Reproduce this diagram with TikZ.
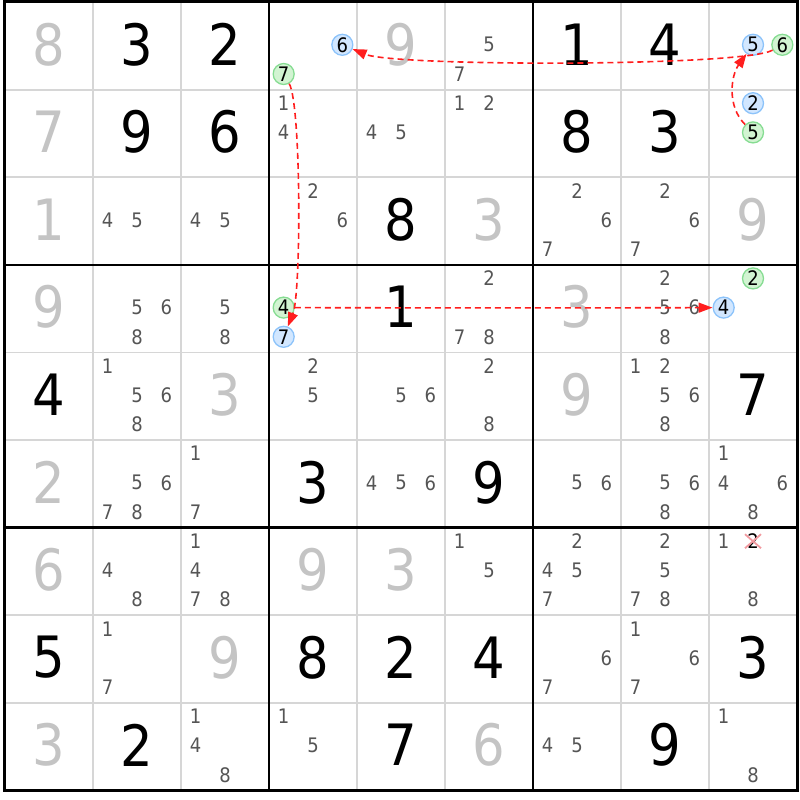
\documentclass[tikz,border=0pt]{standalone}
\usepackage{fontspec}
\setmainfont{DejaVu Sans Condensed}
\usetikzlibrary{arrows.meta}
\definecolor{givengray}{HTML}{C4C4C4}
\definecolor{candgray}{HTML}{555555}
\definecolor{thingrid}{HTML}{D6D6D6}
\definecolor{onfill}{HTML}{D2E7FF}
\definecolor{ondraw}{HTML}{8CC3FA}
\definecolor{offfill}{HTML}{D2F4D2}
\definecolor{offdraw}{HTML}{86DC92}
\definecolor{linkred}{HTML}{FF1E1E}
\definecolor{crossred}{HTML}{F29AA0}
\tikzset{
    given/.style={inner sep=0pt,yshift=1.5pt,text=givengray,font=\fontsize{57}{57}\selectfont},
    solved/.style={given,text=black},
    cand/.style={inner sep=0pt,yshift=1pt,text=candgray,font=\fontsize{20}{20}\selectfont},
    oncand/.style={cand,circle,text=black,draw=ondraw,fill=onfill,line width=1.3pt,minimum size=21pt},
    offcand/.style={oncand,draw=offdraw,fill=offfill},
    link/.style={draw=linkred,line width=1.6pt,dash pattern=on 6pt off 4pt,-{Triangle[length=14pt,width=10pt,fill=linkred]}},
    elimcross/.style={crossred,line width=1.8pt},
}

\begin{document}
\begin{tikzpicture}[x=88pt,y=-87.6pt]
    \useasboundingbox (-5pt,2pt) rectangle (795pt,-798pt);
    % cell lines
    \foreach \i in {1,2,4,5,7,8} {
        \draw[thingrid,line width=1.8pt] (\i,0) -- (\i,9);
        \draw[thingrid,line width=1.8pt] (0,\i) -- (9,\i);
    }
    % box lines
    \foreach \i in {3,6} {
        \draw[line width=2.6pt] (\i,0) -- (\i,9);
        \draw[line width=2.6pt] (0,\i) -- (9,\i);
    }
    \draw[line width=3pt] (0,0) rectangle (9,9);
    % givens
    \foreach \r/\c/\v in {0/0/8,0/4/9,1/0/7,2/0/1,2/5/3,2/8/9,3/0/9,3/6/3,4/2/3,4/6/9,
                          5/0/2,6/0/6,6/3/9,6/4/3,7/2/9,8/0/3,8/5/6}
        \node[given] (g\r\c) at (\c+.5,\r+.5) {\v};
    % solved
    \foreach \r/\c/\v in {0/1/3,0/2/2,0/6/1,0/7/4,1/1/9,1/2/6,1/6/8,1/7/3,2/4/8,3/4/1,4/0/4,
                          4/8/7,5/3/3,5/5/9,7/0/5,7/3/8,7/4/2,7/5/4,7/8/3,8/1/2,8/4/7,8/7/9}
        \node[solved] (g\r\c) at (\c+.5,\r+.5) {\v};
    % candidates
    \foreach \r/\c/\ds in {0/5/{5,7},1/3/{1,4},1/4/{4,5},1/5/{1,2},
                           2/1/{4,5},2/2/{4,5},2/3/{2,6},2/6/{2,6,7},2/7/{2,6,7},
                           3/1/{5,6,8},3/2/{5,8},3/5/{2,7,8},3/7/{2,5,6,8},
                           4/1/{1,5,6,8},4/3/{2,5},4/4/{5,6},4/5/{2,8},4/7/{1,2,5,6,8},
                           5/1/{5,6,7,8},5/2/{1,7},5/4/{4,5,6},5/6/{5,6},5/7/{5,6,8},5/8/{1,4,6,8},
                           6/1/{4,8},6/2/{1,4,7,8},6/5/{1,5},6/6/{2,4,5,7},6/7/{2,5,7,8},6/8/{1,8},
                           7/1/{1,7},7/6/{6,7},7/7/{1,6,7},
                           8/2/{1,4,8},8/3/{1,5},8/6/{4,5},8/8/{1,8}}
        \foreach \d in \ds {
            \pgfmathsetmacro\candx{\c+(2*mod(\d-1,3)+1)/6}
            \pgfmathsetmacro\candy{\r+(2*floor((\d-1)/3)+1)/6}
            \node[cand] (k\r\c\d) at (\candx,\candy) {\d};
        }
    % chain
    \node[oncand] (k036) at (3.8333,0.5) {6};
    \node[offcand] (k037) at (3.1667,0.8333) {7};
    \node[oncand] (k085) at (8.5,0.5) {5};
    \node[offcand] (k086) at (8.8333,0.5) {6};
    \node[oncand] (k182) at (8.5,1.1667) {2};
    \node[offcand] (k185) at (8.5,1.5) {5};
    \node[offcand] (k334) at (3.1667,3.5) {4};
    \node[oncand] (k337) at (3.1667,3.8333) {7};
    \node[offcand] (k382) at (8.5,3.1667) {2};
    \node[oncand] (k384) at (8.1667,3.5) {4};
    \draw[link] (k086) .. controls +(-0.45,0.25) and +(0.6,0.25) .. (k036);
    \draw[link] (k185) .. controls +(-0.3,-0.3) and +(-0.25,0.35) .. (k085);
    \draw[link] (k037) .. controls +(0.2,0.35) and +(0.2,-0.5) .. (k337);
    \draw[link] (k334) .. controls +(1.5,0.004) and +(-1.5,0.004) .. (k384);
    % eliminated
    \node[cand,text=black] (k682) at (8.5,6.1667) {2};
    \draw[elimcross] ([shift={(-8pt,7pt)}]k682.center) -- ([shift={(8pt,-7pt)}]k682.center);
    \draw[elimcross] ([shift={(-8pt,-7pt)}]k682.center) -- ([shift={(8pt,7pt)}]k682.center);
\end{tikzpicture}
\end{document}
